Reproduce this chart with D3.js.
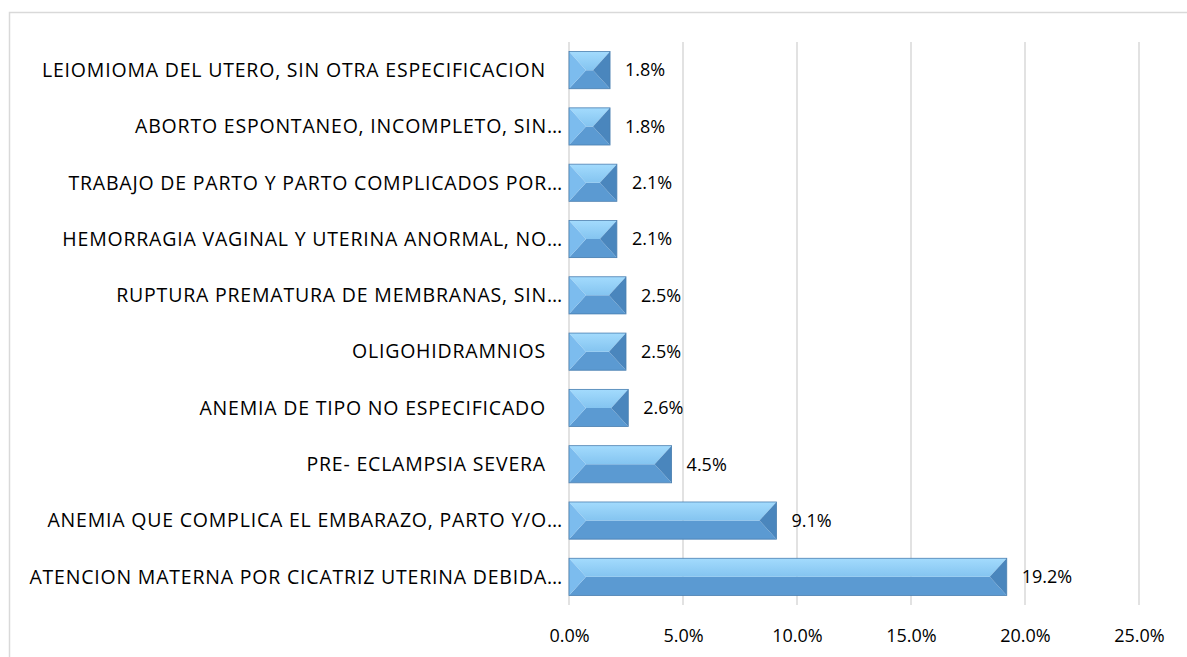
<!DOCTYPE html>
<html>
<head>
<meta charset="utf-8">
<script src="https://cdn.jsdelivr.net/npm/d3@7"></script>
<style>
  html, body { margin: 0; padding: 0; background: #fff; }
  svg { display: block; font-family: "Open Sans", sans-serif; }
</style>
</head>
<body>
<div id="chart"></div>
<script>
// categories, top to bottom as shown
const categories = [
  'LEIOMIOMA DEL UTERO, SIN OTRA ESPECIFICACION',
  'ABORTO ESPONTANEO, INCOMPLETO, SIN…',
  'TRABAJO DE PARTO Y PARTO COMPLICADOS POR…',
  'HEMORRAGIA VAGINAL Y UTERINA ANORMAL, NO…',
  'RUPTURA PREMATURA DE MEMBRANAS, SIN…',
  'OLIGOHIDRAMNIOS',
  'ANEMIA DE TIPO NO ESPECIFICADO',
  'PRE- ECLAMPSIA SEVERA',
  'ANEMIA QUE COMPLICA EL EMBARAZO, PARTO Y/O…',
  'ATENCION MATERNA POR CICATRIZ UTERINA DEBIDA…'
];
// percentages
const values = [1.8, 1.8, 2.1, 2.1, 2.5, 2.5, 2.6, 4.5, 9.1, 19.2];
// axis ticks
const ticks = [0, 5, 10, 15, 20, 25];

//size of the chart
const W = 1187, H = 657;
const PLOT = { left: 569, right: 1139, top: 42, bottom: 605 };
const FONT_SIZE = 18;
const CAT_FONT_SIZE = 19.5;

//bar colours
const COLOR = {
  topHi: '#a3dbfd',
  topLo: '#84c4f0',
  bottom: '#5b9ad2',
  left: '#7cbcee',
  right: '#4a86bd',
  edge: '#4a7fb0',
  grid: '#d9d9d9',
  text: '#000'
};

const svg = d3.select('#chart').append('svg')
  .attr('width', W)
  .attr('height', H)
  .attr('viewBox', `0 0 ${W} ${H}`);

const defs = svg.append('defs');
const grad = defs.append('linearGradient')
  .attr('id', 'topGrad')
  .attr('x1', 0).attr('y1', 0).attr('x2', 0).attr('y2', 1);
grad.append('stop').attr('offset', '0%').attr('stop-color', COLOR.topHi);
grad.append('stop').attr('offset', '100%').attr('stop-color', COLOR.topLo);

// outer chart border
svg.append('rect')
  .attr('x', 9.5).attr('y', 12.5)
  .attr('width', W + 10).attr('height', H + 10)
  .attr('fill', 'none')
  .attr('stroke', COLOR.grid)
  .attr('stroke-width', 1.5);

const x = d3.scaleLinear()
  .domain([0, 25])
  .range([PLOT.left, PLOT.right]);

const y = d3.scaleBand()
  .domain(categories)
  .range([PLOT.top, PLOT.bottom])
  .paddingInner(0.34)
  .paddingOuter(0.17);

// gridlines
svg.append('g')
  .attr('class', 'grid')
  .selectAll('line')
  .data(ticks)
  .join('line')
  .attr('x1', d => x(d)).attr('x2', d => x(d))
  .attr('y1', PLOT.top).attr('y2', PLOT.bottom)
  .attr('stroke', COLOR.grid)
  .attr('stroke-width', 1.5);

// x axis labels
const xAxis = d3.axisBottom(x)
  .tickValues(ticks)
  .tickSize(0)
  .tickPadding(0)
  .tickFormat(d => d.toFixed(1) + '%');

svg.append('g')
  .attr('transform', `translate(0,${PLOT.bottom + 31})`)
  .call(xAxis)
  .call(g => g.select('.domain').remove())
  .call(g => g.selectAll('text')
    .attr('dy', '0.35em')
    .attr('font-size', FONT_SIZE)
    .attr('font-family', '"Open Sans", sans-serif')
    .attr('fill', COLOR.text));

// bevelled bars
const bars = svg.append('g')
  .attr('class', 'bars')
  .selectAll('g')
  .data(categories.map((c, i) => ({ name: c, val: values[i] })))
  .join('g')
  .attr('transform', d => `translate(${x(0)},${y(d.name)})`);

const bh = y.bandwidth();

function faces(d) {
  const w = x(d.val) - x(0);
  const b = Math.min(bh / 2, w / 2, 17);
  const m = bh / 2;
  return [
    { pts: [[0, bh], [w, bh], [w - b, m], [b, m]], fill: COLOR.bottom },
    { pts: [[0, 0], [w, 0], [w - b, m], [b, m]], fill: 'url(#topGrad)' },
    { pts: [[0, 0], [b, m], [0, bh]], fill: COLOR.left },
    { pts: [[w, 0], [w, bh], [w - b, m]], fill: COLOR.right }
  ];
}

bars.selectAll('polygon')
  .data(d => faces(d))
  .join('polygon')
  .attr('points', f => f.pts.map(p => p.join(',')).join(' '))
  .attr('fill', f => f.fill);

bars.append('rect')
  .attr('width', d => x(d.val) - x(0))
  .attr('height', bh)
  .attr('fill', 'none')
  .attr('stroke', COLOR.edge)
  .attr('stroke-width', 0.8);

// value labels
bars.append('text')
  .attr('x', d => x(d.val) - x(0) + 15)
  .attr('y', bh / 2)
  .attr('dy', '0.35em')
  .attr('font-size', FONT_SIZE)
  .attr('fill', COLOR.text)
  .text(d => d.val.toFixed(1) + '%');

// category labels
svg.append('g')
  .attr('class', 'cats')
  .selectAll('text')
  .data(categories)
  .join('text')
  .attr('x', d => d.endsWith('…') ? PLOT.left - 6 : PLOT.left - 23)
  .attr('y', d => y(d) + bh / 2)
  .attr('dy', '0.35em')
  .attr('text-anchor', 'end')
  .attr('font-size', CAT_FONT_SIZE)
  .attr('letter-spacing', 0.8)
  .attr('fill', COLOR.text)
  .text(d => d);
</script>
</body>
</html>
